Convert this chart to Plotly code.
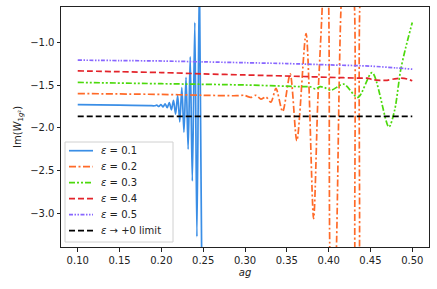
import plotly.graph_objects as go

# ---------------- data ----------------
x_e01 = [0.100, 0.150, 0.185, 0.192, 0.1945, 0.197, 0.1995, 0.202, 0.2045, 0.207, 0.2095,
         0.212, 0.2145, 0.217, 0.2195, 0.222, 0.2245, 0.227, 0.2295, 0.232, 0.2345,
         0.237, 0.240, 0.2425, 0.2455, 0.249]
y_e01 = [-1.73, -1.735, -1.74, -1.742, -1.735, -1.75, -1.728, -1.755, -1.72, -1.765, -1.705,
         -1.79, -1.68, -1.84, -1.62, -1.93, -1.53, -2.05, -1.41, -2.25, -1.17,
         -2.62, -0.77, -3.27, -0.2, -4.5]

x_e02 = [0.100, 0.200, 0.250, 0.290, 0.299, 0.307, 0.313, 0.319, 0.325, 0.331, 0.337,
         0.345, 0.354, 0.362, 0.373, 0.382, 0.387, 0.3925, 0.396, 0.4000, 0.4015,
         0.405, 0.4092, 0.4152, 0.423, 0.4308, 0.4314, 0.434, 0.4368, 0.4375, 0.445]
y_e02 = [-1.60, -1.61, -1.62, -1.625, -1.62, -1.645, -1.62, -1.665, -1.64, -1.70, -1.54,
         -1.81, -1.37, -2.15, -0.90, -3.06, -1.7, -0.55, 0.5, -0.55, -3.5,
         -4.5, -3.45, -0.5, 0.5, -0.55, -3.5, -4.5, -3.5, -0.5, 0.5]

x_e03 = [0.100, 0.200, 0.300, 0.370, 0.378, 0.384, 0.390, 0.395, 0.403, 0.418, 0.435,
         0.452, 0.472, 0.479, 0.486, 0.492, 0.500]
y_e03 = [-1.47, -1.485, -1.50, -1.52, -1.52, -1.545, -1.52, -1.53, -1.56, -1.49, -1.645,
         -1.355, -1.99, -1.79, -1.33, -1.07, -0.77]

x_e04 = [0.100, 0.150, 0.200, 0.250, 0.300, 0.3665, 0.400, 0.438, 0.446, 0.454, 0.462,
         0.470, 0.478, 0.486, 0.494, 0.500]
y_e04 = [-1.335, -1.345, -1.355, -1.37, -1.383, -1.40, -1.41, -1.42, -1.42, -1.44, -1.445,
         -1.445, -1.43, -1.42, -1.43, -1.45]

x_e05 = [0.10, 0.15, 0.20, 0.25, 0.30, 0.35, 0.40, 0.45, 0.48, 0.50]
y_e05 = [-1.21, -1.215, -1.22, -1.23, -1.24, -1.25, -1.265, -1.28, -1.30, -1.315]

x_lim = [0.10, 0.50]
y_lim = [-1.865, -1.865]

labels = ["<i>ε</i> = 0.1", "<i>ε</i> = 0.2", "<i>ε</i> = 0.3", "<i>ε</i> = 0.4",
          "<i>ε</i> = 0.5", "<i>ε</i> → +0 limit"]

x_ticks = [0.10, 0.15, 0.20, 0.25, 0.30, 0.35, 0.40, 0.45, 0.50]
y_ticks = [-1.0, -1.5, -2.0, -2.5, -3.0]

# ---------------- figure ----------------
FONT = "DejaVu Sans"
W, H = 437, 289
ML, MR, MT, MB = 61, 8, 7, 42
PW, PH = W - ML - MR, H - MT - MB

def px2paper_x(px):
    return (px - ML) / PW

def px2paper_y(py):
    return (H - MB - py) / PH

fig = go.Figure()

styles = [
    ("#3a8ee6", "solid", "spline"),
    ("#ff6a28", "7px,2.5px,2px,2.5px", "spline"),
    ("#4cd90c", "6px,2px,2px,2px,2px,2px", "spline"),
    ("#e3242b", "6px,3px", "spline"),
    ("#8866ff", "4px,1.5px,1.5px,1.5px,1.5px,1.5px", "spline"),
    ("#000000", "6px,3px", "linear"),
]
data = [(x_e01, y_e01), (x_e02, y_e02), (x_e03, y_e03),
        (x_e04, y_e04), (x_e05, y_e05), (x_lim, y_lim)]

for (xs, ys), (col, dash, shape), lab in zip(data, styles, labels):
    fig.add_trace(go.Scatter(
        x=xs, y=ys, mode="lines", name=lab, showlegend=False,
        line=dict(color=col, width=1.7, dash=dash, shape=shape,
                  smoothing=0.8 if shape == "spline" else None),
    ))

# ---- matplotlib-like legend box (drawn in paper coordinates) ----
box_l, box_r, box_t, box_b = 65, 173, 142, 242
fig.add_shape(type="rect", xref="paper", yref="paper",
              x0=px2paper_x(box_l), x1=px2paper_x(box_r),
              y0=px2paper_y(box_b), y1=px2paper_y(box_t),
              line=dict(color="#d0d0d0", width=1),
              fillcolor="rgba(255,255,255,0.85)", layer="above")
row0, row_step = 150.7, 16.0
for i, ((col, dash, _), lab) in enumerate(zip(styles, labels)):
    yy = px2paper_y(row0 + i * row_step)
    fig.add_shape(type="line", xref="paper", yref="paper",
                  x0=px2paper_x(69), x1=px2paper_x(93), y0=yy, y1=yy,
                  line=dict(color=col, width=1.7, dash=dash), layer="above")
    fig.add_annotation(xref="paper", yref="paper", x=px2paper_x(99), y=yy,
                       xanchor="left", yanchor="middle", showarrow=False,
                       text=lab, font=dict(family=FONT, size=10, color="#222222"))

axis_common = dict(
    showline=True, linecolor="#222222", linewidth=1, mirror=True,
    ticks="outside", ticklen=3.5, tickwidth=0.8, tickcolor="#222222",
    showgrid=False, zeroline=False, automargin=False,
    tickfont=dict(family=FONT, size=10, color="#222222"),
)

fig.update_layout(
    width=W, height=H,
    margin=dict(l=ML, r=MR, t=MT, b=MB),
    paper_bgcolor="white", plot_bgcolor="white",
    font=dict(family=FONT, size=10, color="#222222"),
    showlegend=False,
)
fig.update_xaxes(
    range=[0.08, 0.52], tickvals=x_ticks,
    ticktext=[f"{v:.2f}" for v in x_ticks],
    title=dict(text="<i>ag</i>", font=dict(family=FONT, size=10), standoff=4),
    **axis_common,
)
fig.update_yaxes(
    range=[-3.39, -0.59], tickvals=y_ticks,
    ticktext=[f"{v:.1f}".replace("-", "\u2212") for v in y_ticks],
    title=dict(text="Im(<i>W</i><sub>1<i>g</i>²</sub>)", font=dict(family=FONT, size=10),
               standoff=6),
    **axis_common,
)

fig.write_html("out.html", config={"displayModeBar": False},
               post_script="document.body.style.margin='0';")
